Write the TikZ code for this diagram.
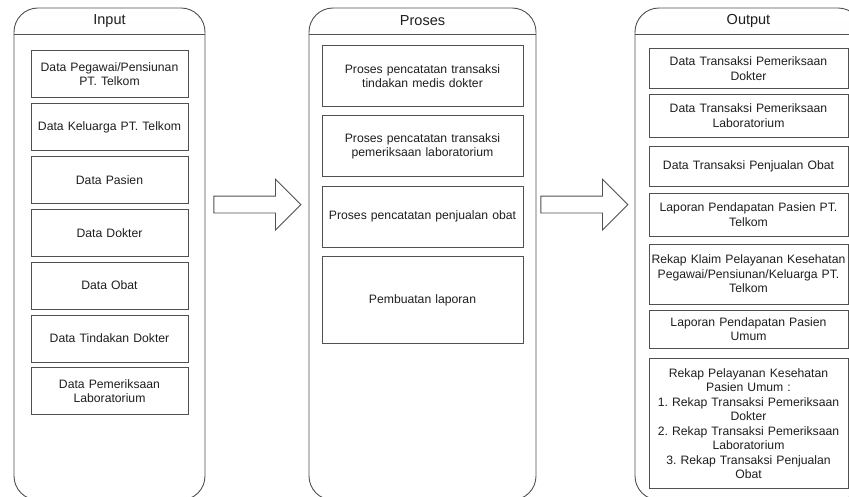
\documentclass[tikz,border=0pt]{standalone}
\usepackage{fontspec}
\setmainfont{Liberation Sans}
\usepackage{tikz}
\usetikzlibrary{calc,positioning,shapes.arrows}
\definecolor{linegray}{HTML}{505050}
\definecolor{headgray}{HTML}{EBEBE3}
\definecolor{textgray}{HTML}{1E1E1E}
\frenchspacing

\begin{document}
\begin{tikzpicture}[x=1pt, y=-1pt, line width=0.9pt,
    every node/.style={text=textgray, font=\fontsize{12.2}{14.5}\selectfont},
    panel/.style={draw=linegray, rounded corners=24pt, minimum height=492pt, inner sep=0pt,
        path picture={\shade[sharp corners, top color=white, bottom color=headgray]
            (path picture bounding box.north west) rectangle ([yshift=-27pt]path picture bounding box.north east);}},
    headtext/.style={font=\fontsize{14.5}{17}\selectfont},
    item/.style={draw=linegray, inner xsep=2pt, align=center, anchor=north},
    inbox/.style={item, text width=153pt, minimum height=47pt},
    prbox/.style={item, text width=197pt, minimum height=61pt},
    outbox/.style={item, text width=195pt},
    blockarrow/.style={single arrow, draw=linegray, fill=white, inner sep=8pt, anchor=tail,
        minimum height=87pt, single arrow head extend=17pt, single arrow tip angle=90}]
    \path[use as bounding box, clip] (0,0) rectangle (849,497);

    % Columns
    \node[panel, minimum width=191pt] (input) at (109.5,254) {};
    \node[panel, minimum width=227pt] (proses) at (422.5,254) {};
    \node[panel, minimum width=227pt] (output) at (748.5,254) {};
    \draw[linegray] ([yshift=-27pt]input.north west) -- ([yshift=-27pt]input.north east);
    \draw[linegray] ([yshift=-27pt]proses.north west) -- ([yshift=-27pt]proses.north east);
    \draw[linegray] ([yshift=-27pt]output.north west) -- ([yshift=-27pt]output.north east);
    \node[headtext] (inputtitle) at ([yshift=-13.5pt]input.north) {Input};
    \node[headtext] (prosestitle) at ([yshift=-13.5pt]proses.north) {Proses};
    \node[headtext] (outputtitle) at ([yshift=-13.5pt]output.north) {Output};

    % Input
    \node[inbox] (in1) at (109.5,50) {Data Pegawai/Pensiunan\\PT. Telkom};
    \node[inbox, below=5pt of in1] (in2) {Data Keluarga PT. Telkom};
    \node[inbox, below=5pt of in2] (in3) {Data Pasien};
    \node[inbox, below=5pt of in3] (in4) {Data Dokter};
    \node[inbox, below=5pt of in4] (in5) {Data Obat};
    \node[inbox, below=5pt of in5] (in6) {Data Tindakan Dokter};
    \node[inbox, below=5pt of in6] (in7) {Data Pemeriksaan\\Laboratorium};

    % Proses
    \node[prbox] (pr1) at (422.5,45) {Proses pencatatan transaksi\\tindakan medis dokter};
    \node[prbox, below=8.5pt of pr1] (pr2) {Proses pencatatan transaksi\\pemeriksaan laboratorium};
    \node[prbox, below=8.5pt of pr2] (pr3) {Proses pencatatan penjualan obat};
    \node[prbox, below=8.5pt of pr3, minimum height=87pt] (pr4) {Pembuatan laporan};

    % Output
    \node[outbox, minimum height=40pt] (out1) at (748.5,48) {Data Transaksi Pemeriksaan\\Dokter};
    \node[outbox, minimum height=43pt, below=5pt of out1] (out2) {Data Transaksi Pemeriksaan\\Laboratorium};
    \node[outbox, minimum height=40pt, below=8pt of out2] (out3) {Data Transaksi Penjualan Obat};
    \node[outbox, minimum height=43pt, below=6pt of out3] (out4) {Laporan Pendapatan Pasien PT.\\Telkom};
    \node[outbox, minimum height=60pt, below=7pt of out4] (out5) {Rekap Klaim Pelayanan Kesehatan\\Pegawai/Pensiunan/Keluarga PT.\\Telkom};
    \node[outbox, minimum height=38pt, below=5pt of out5] (out6) {Laporan Pendapatan Pasien\\Umum};
    \node[outbox, minimum height=130pt, below=10pt of out6] (out7) {Rekap Pelayanan Kesehatan\\Pasien Umum :\\1. Rekap Transaksi Pemeriksaan\\Dokter\\2. Rekap Transaksi Pemeriksaan\\Laboratorium\\3. Rekap Transaksi Penjualan\\Obat};

    % Flow arrows
    \node[blockarrow] (arrow1) at ($(input.north east)+(8,197)$) {};
    \node[blockarrow] (arrow2) at ($(proses.north east)+(4,197)$) {};
\end{tikzpicture}
\end{document}
